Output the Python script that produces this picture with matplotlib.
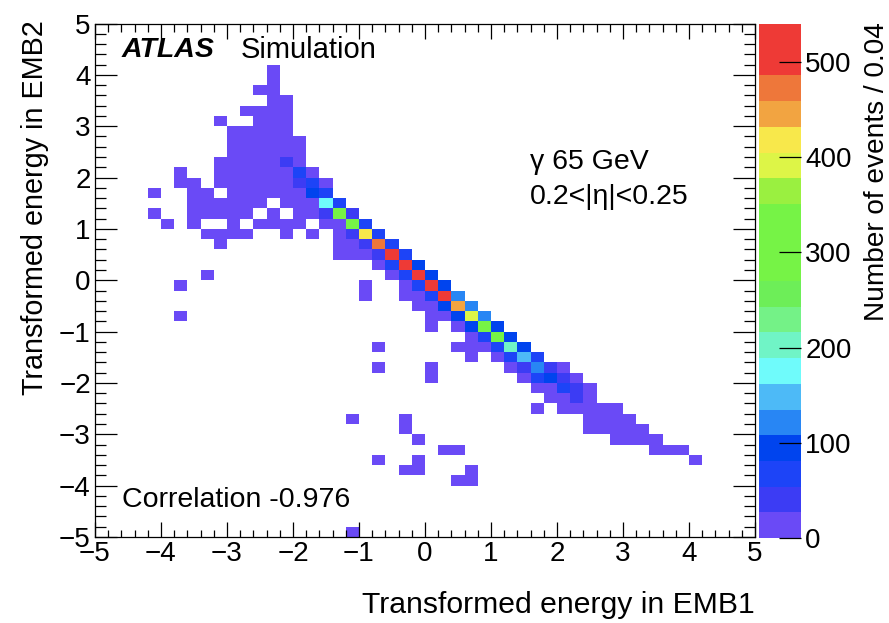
import numpy as np
import matplotlib.pyplot as plt
from matplotlib.colors import ListedColormap, BoundaryNorm
from matplotlib.ticker import MultipleLocator

plt.rcParams['font.family'] = ['Liberation Sans', 'DejaVu Sans']

# 50 x 50 bins of 0.2 (bin area 0.04)
x_edges = np.linspace(-5, 5, 51)
y_edges = np.linspace(-5, 5, 51)

# approximate bin content read off the colour of each cell
level_counts = {'.': 0, 'p': 10, 'b': 40, 'B': 65, 'D': 95, 'l': 120,
                'L': 150, 'c': 175, 'a': 200, 'g': 310, 'G': 390,
                'y': 420, 'o': 445, 'O': 470, 'r': 510}

# one string per y bin, from y=5 (top) down to y=-5, blocks of 10 x bins
hist_rows = [
    ".......... .......... .......... .......... ..........",
    ".......... .......... .......... .......... ..........",
    ".......... .......... .......... .......... ..........",
    ".......... .......... .......... .......... ..........",
    ".......... ...p...... .......... .......... ..........",
    ".......... ...p...... .......... .......... ..........",
    ".......... ..pp...... .......... .......... ..........",
    ".......... ...pp..... .......... .......... ..........",
    ".......... .pppp..... .......... .......... ..........",
    ".........p ..ppp..... .......... .......... ..........",
    ".......... ppppp..... .......... .......... ..........",
    ".......... pppppp.... .......... .......... ..........",
    ".......... pppppp.... .......... .......... ..........",
    ".........p ppppbp.... .......... .......... ..........",
    "......p..p pppppBp... .......... .......... ..........",
    "......pp.p pppppbBp.. .......... .......... ..........",
    "....p..pp. ppppppDB.. .......... .......... ..........",
    ".......ppp ppp.pppcB. .......... .......... ..........",
    "....p..ppp pp.p.ppbgb .......... .......... ..........",
    ".....p.p.. p.pppp.ppg B......... .......... ..........",
    "........pp pp..p.p.pb yB........ .......... ..........",
    ".........p ........pp bOB....... .......... ..........",
    ".......... ........pp pbrB...... .......... ..........",
    ".......... .......... .pBrD..... .......... ..........",
    "........p. .......... ..pBrD.... .......... ..........",
    "......p... .......... p..pBrD... .......... ..........",
    ".......... .......... p..ppBrl.. .......... ..........",
    ".......... .......... ....ppDol. .......... ..........",
    "......p... .......... .....ppDGl .......... ..........",
    ".......... .......... .....p.pDg D......... ..........",
    ".......... .......... ........pB gD........ ..........",
    ".......... .......... .p.....ppp BaD....... ..........",
    ".......... .......... ........p. pBLB...... ..........",
    ".......... .......... .p...p.... .pblbp.... ..........",
    ".......... .......... .....p.... ..pBDbp... ..........",
    ".......... .......... .......... ...ppBbp.. ..........",
    ".......... .......... .......... ....ppbp.. ..........",
    ".......... .......... .......... ...p.ppppp ..........",
    ".......... .........p ...p...... .......ppp p.........",
    ".......... .......... ...p...... .......ppp pp........",
    ".......... .......... ....p..... .........p ppp.......",
    ".......... .......... ......pp.. .......... ..ppp.....",
    ".......... .......... .p..p..... .......... .....p....",
    ".......... .......... ...pp...p. .......... ..........",
    ".......... .......... .......pp. .......... ..........",
    ".......... .......... .......... .......... ..........",
    ".......... .......... .......... .......... ..........",
    ".......... .......... .......... .......... ..........",
    ".......... .......... .......... .......... ..........",
    ".......... .........p .......... .......... ..........",
]

# palette: 20 contour levels from 0 to 540
palette = ['#6A4AF6', '#3C3CF4', '#1D44F7', '#0044EE', '#2886F4',
           '#4DBAF7', '#6FFBFB', '#70F4C6', '#74F287', '#6DEE58',
           '#76F346', '#76F346', '#76F346', '#9AF040', '#DDF547',
           '#F8E84B', '#F2A441', '#EE773A', '#EE3A36', '#EE3A36']
levels = np.linspace(0, 540, 21)

counts = np.array([[level_counts[c] for c in row.replace(' ', '')]
                   for row in hist_rows])[::-1]
masked = np.ma.masked_equal(counts, 0)

cmap = ListedColormap(palette)
norm = BoundaryNorm(levels, cmap.N)

fig = plt.figure(figsize=(8.89, 6.23), dpi=100)
ax = fig.add_axes([95 / 889, 86 / 623, 660 / 889, 513.5 / 623])
mesh = ax.pcolormesh(x_edges, y_edges, masked, cmap=cmap, norm=norm)

ax.set_xlim(-5, 5)
ax.set_ylim(-5, 5)
ax.set_xticks(np.arange(-5, 6))
ax.set_yticks(np.arange(-5, 6))
ax.xaxis.set_minor_locator(MultipleLocator(0.2))
ax.yaxis.set_minor_locator(MultipleLocator(0.2))
ax.tick_params(which='both', direction='in', top=True, right=True,
               labelsize=20, width=0.9)
ax.tick_params(axis='x', which='major', length=10.8, pad=3)
ax.tick_params(axis='x', which='minor', length=5.4)
ax.tick_params(axis='y', which='major', length=15.8, pad=3)
ax.tick_params(axis='y', which='minor', length=8)
for s in ax.spines.values():
    s.set_linewidth(0.9)

ax.text(-4.59, 4.48, 'ATLAS', fontsize=20.5, fontweight='bold',
        fontstyle='italic', va='center')
ax.text(-2.80, 4.48, 'Simulation', fontsize=21, va='center')
ax.text(1.59, 2.30, 'γ 65 GeV', fontsize=20.5, va='center')
ax.text(1.59, 1.62, '0.2<|η|<0.25', fontsize=20.5, va='center')
ax.text(-4.59, -4.28, 'Correlation -0.976', fontsize=20.5, va='center')

# colour scale
cax = fig.add_axes([759 / 889, 85 / 623, 42 / 889, 514 / 623])
cb = fig.colorbar(mesh, cax=cax, ticks=range(0, 501, 100),
                  spacing='proportional')
cb.outline.set_visible(False)
cax.tick_params(direction='in', length=15.8, width=0.9, labelsize=20, pad=3)
cax.minorticks_off()

fig.text(755 / 889, 1 - 605 / 623, 'Transformed energy in EMB1',
         ha='right', va='center', fontsize=21.7)
fig.text(35 / 889, 1 - 20 / 623, 'Transformed energy in EMB2',
         rotation=90, ha='center', va='top', fontsize=20.7)
fig.text(877 / 889, 1 - 22 / 623, 'Number of events / 0.04',
         rotation=90, ha='center', va='top', fontsize=20.2)

fig.savefig('out.png', dpi=100)
